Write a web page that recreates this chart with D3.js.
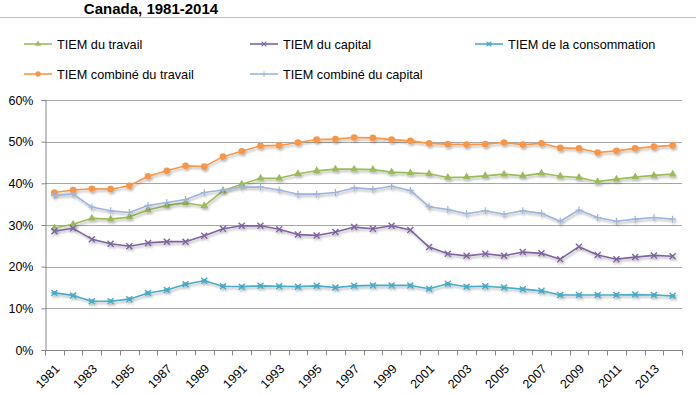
<!DOCTYPE html>
<html>
<head>
<meta charset="utf-8">
<script src="https://cdn.jsdelivr.net/npm/d3@7"></script>
<style>
  body { margin: 0; background: #fff; }
  svg { font-family: "Liberation Sans", Arial, sans-serif; }
</style>
</head>
<body>
<svg id="chart" width="696" height="396"></svg>
<script>
// years on the category axis
var years = d3.range(1981, 2015);
var tickYears = years.filter(function(y) { return (y - 1981) % 2 === 0; });
var yTicks = [0, 10, 20, 30, 40, 50, 60];

// values in %
var travail = [29.3, 30.2, 31.6, 31.4, 31.9, 33.6, 34.7, 35.3, 34.6, 38.2, 39.8, 41.2, 41.2, 42.3, 43.0, 43.4, 43.4, 43.3,
  42.7, 42.5, 42.3, 41.4, 41.5, 41.8, 42.2, 41.8, 42.4, 41.7, 41.4, 40.4, 41.0, 41.5, 41.9, 42.2];
var capital = [28.5, 29.2, 26.6, 25.5, 24.9, 25.7, 26.0, 26.0, 27.4, 29.1, 29.8, 29.8, 29.0, 27.7, 27.5, 28.3, 29.5, 29.1,
  29.8, 28.8, 24.7, 23.1, 22.6, 23.1, 22.6, 23.5, 23.2, 21.8, 24.8, 22.8, 21.8, 22.3, 22.7, 22.5];
var consommation = [13.7, 13.1, 11.7, 11.7, 12.2, 13.7, 14.4, 15.8, 16.6, 15.3, 15.2, 15.4, 15.3, 15.2, 15.4, 15.0, 15.4, 15.5,
  15.5, 15.5, 14.7, 15.9, 15.2, 15.3, 15.0, 14.6, 14.2, 13.2, 13.2, 13.2, 13.2, 13.3, 13.2, 13.0];
var combTravail = [37.8, 38.4, 38.7, 38.6, 39.4, 41.7, 43.0, 44.2, 44.0, 46.4, 47.7, 49.0, 49.1, 49.8, 50.5, 50.6, 51.0, 50.9,
  50.5, 50.2, 49.6, 49.4, 49.3, 49.4, 49.8, 49.3, 49.6, 48.5, 48.4, 47.4, 47.8, 48.4, 48.8, 49.1];
var combCapital = [37.1, 37.4, 34.3, 33.4, 33.0, 34.7, 35.4, 36.1, 37.8, 38.4, 39.1, 39.1, 38.4, 37.4, 37.4, 37.8, 38.9, 38.6,
  39.3, 38.3, 34.4, 33.7, 32.7, 33.4, 32.6, 33.4, 32.8, 30.9, 33.6, 31.8, 30.9, 31.4, 31.8, 31.4];

var series = [
  { name: "TIEM du travail", values: travail, color: "#9bbb59", marker: "triangle", lx: 24, ly: 44 },
  { name: "TIEM du capital", values: capital, color: "#7f64a1", marker: "x", lx: 250, ly: 44 },
  { name: "TIEM de la consommation", values: consommation, color: "#4aacc5", marker: "star", lx: 475, ly: 44 },
  { name: "TIEM combiné du travail", values: combTravail, color: "#f79646", marker: "circle", lx: 24, ly: 74 },
  { name: "TIEM combiné du capital", values: combCapital, color: "#9fb4dc", marker: "plus", lx: 250, ly: 74 }
];

var svg = d3.select("#chart");
var margin = { left: 45, right: 14, top: 100, bottom: 46 };
var width = 696 - margin.left - margin.right;
var height = 396 - margin.top - margin.bottom;

var defs = svg.append("defs");
var f = defs.append("filter").attr("id", "shadow").attr("x", "-10%").attr("y", "-10%").attr("width", "120%").attr("height", "140%");
f.append("feDropShadow").attr("dx", 1.2).attr("dy", 2).attr("stdDeviation", 1.2)
  .attr("flood-color", "#000").attr("flood-opacity", 0.28);

// title and frame line
svg.append("text").attr("x", 151).attr("y", 13.5).attr("text-anchor", "middle")
  .attr("font-size", 15).attr("font-weight", "bold").attr("fill", "#000").text("Canada, 1981-2014");
svg.append("line").attr("x1", 0).attr("x2", 696).attr("y1", 17.5).attr("y2", 17.5)
  .attr("stroke", "#bfbfbf").attr("stroke-width", 1);

var x = d3.scaleBand().domain(years).range([0, width]);
var y = d3.scaleLinear().domain([0, 60]).range([height, 0]);

var g = svg.append("g").attr("transform", "translate(" + margin.left + "," + margin.top + ")");

// gridlines
g.append("g").selectAll("line").data(yTicks.filter(function(d) { return d > 0; })).enter().append("line")
  .attr("x1", 0).attr("x2", width)
  .attr("y1", function(d) { return Math.round(y(d)) + 0.5; })
  .attr("y2", function(d) { return Math.round(y(d)) + 0.5; })
  .attr("stroke", "#a6a6a6").attr("stroke-width", 1);

// y axis
var yAxis = g.append("g").attr("transform", "translate(0.5,0)")
  .call(d3.axisLeft(y).tickValues(yTicks).tickSize(4).tickFormat(function(d) { return d + "%"; }));
yAxis.select(".domain").attr("stroke", "#868686");
yAxis.selectAll(".tick line").attr("stroke", "#868686");
yAxis.selectAll(".tick text").attr("font-size", 12.5).attr("fill", "#000").attr("x", -12)
  .attr("font-family", "Liberation Sans, Arial, sans-serif");

// x axis: ticks at category boundaries
var xg = g.append("g").attr("transform", "translate(0," + (height + 0.5) + ")");
xg.append("line").attr("x1", 0).attr("x2", width).attr("stroke", "#868686");
xg.selectAll(".tk").data(d3.range(years.length + 1)).enter().append("line")
  .attr("x1", function(i) { return Math.round(i * x.step()) + 0.5; })
  .attr("x2", function(i) { return Math.round(i * x.step()) + 0.5; })
  .attr("y1", 0).attr("y2", 5).attr("stroke", "#868686");
xg.selectAll(".lbl").data(tickYears).enter().append("text")
  .attr("transform", function(d) { return "translate(" + (x(d) + x.bandwidth() / 2 + 6) + ",19) rotate(-45)"; })
  .attr("text-anchor", "end").attr("font-size", 12.5).attr("fill", "#000")
  .text(function(d) { return d; });

function drawMarker(sel, type, color) {
  if (type === "triangle") {
    sel.append("path").attr("d", d3.symbol().type(d3.symbolTriangle).size(26)()).attr("fill", color);
  } else if (type === "circle") {
    sel.append("circle").attr("r", 3.3).attr("fill", color);
  } else if (type === "x") {
    sel.append("path").attr("d", "M-3,-3L3,3M-3,3L3,-3").attr("stroke", color).attr("stroke-width", 1.4);
  } else if (type === "star") {
    sel.append("path").attr("d", "M-3,-3L3,3M-3,3L3,-3M-3,0L3,0").attr("stroke", color).attr("stroke-width", 1.4);
    sel.append("rect").attr("x", -1.8).attr("y", -1.8).attr("width", 3.6).attr("height", 3.6).attr("fill", color);
  } else if (type === "plus") {
    sel.append("path").attr("d", "M-3.5,0L3.5,0M0,-3.5L0,3.5").attr("stroke", color).attr("stroke-width", 1.2);
  }
}

var line = d3.line()
  .x(function(d, i) { return x(years[i]) + x.bandwidth() / 2; })
  .y(function(d) { return y(d); });

series.forEach(function(s) {
  var sg = g.append("g").attr("filter", "url(#shadow)");
  sg.append("path").datum(s.values).attr("d", line)
    .attr("fill", "none").attr("stroke", s.color).attr("stroke-width", 1.6).attr("stroke-linejoin", "round");
  sg.selectAll(".m").data(s.values).enter().append("g")
    .attr("transform", function(d, i) { return "translate(" + (x(years[i]) + x.bandwidth() / 2) + "," + y(d) + ")"; })
    .each(function() { drawMarker(d3.select(this), s.marker, s.color); });
});

// legend
var lg = svg.append("g");
series.forEach(function(s) {
  var it = lg.append("g").attr("transform", "translate(" + s.lx + "," + s.ly + ")");
  it.append("line").attr("x1", 0).attr("x2", 28).attr("stroke", s.color).attr("stroke-width", 1.6);
  var mk = it.append("g").attr("transform", "translate(14,0) scale(0.8)");
  drawMarker(mk, s.marker, s.color);
  it.append("text").attr("x", 33).attr("y", 4.5).attr("font-size", 12.7).attr("fill", "#000").text(s.name);
});
</script>
</body>
</html>
